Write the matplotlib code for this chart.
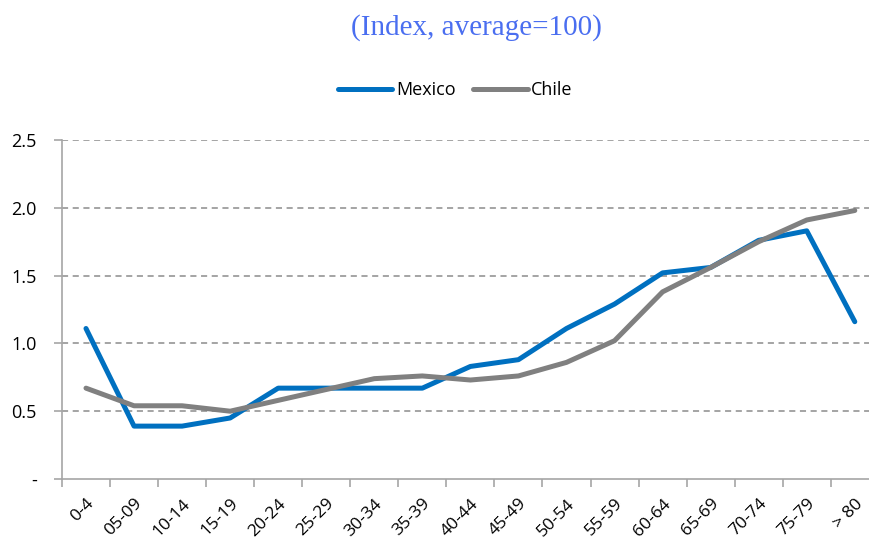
import matplotlib.pyplot as plt
import numpy as np

age_groups = ["0-4", "05-09", "10-14", "15-19", "20-24", "25-29", "30-34", "35-39",
              "40-44", "45-49", "50-54", "55-59", "60-64", "65-69", "70-74", "75-79", "> 80"]
mexico = [1.11, 0.39, 0.39, 0.45, 0.67, 0.67, 0.67, 0.67, 0.83, 0.88, 1.11, 1.29,
          1.52, 1.56, 1.76, 1.83, 1.16]
chile = [0.67, 0.54, 0.54, 0.50, 0.58, 0.66, 0.74, 0.76, 0.73, 0.76, 0.86, 1.02,
         1.38, 1.56, 1.75, 1.91, 1.98]
yticks = [0, 0.5, 1.0, 1.5, 2.0, 2.5]
ytick_labels = ["-", "0.5", "1.0", "1.5", "2.0", "2.5"]

plt.rcParams['font.family'] = ['Open Sans', 'DejaVu Sans']

fig = plt.figure(figsize=(8.69, 5.39), dpi=100)
ax = fig.add_axes([0.0713, 0.1113, 0.94, 0.629])

x = np.arange(len(age_groups))
ax.plot(x, mexico, color="#0070C0", lw=3.6, label="Mexico", solid_capstyle="round")
ax.plot(x, chile, color="#808080", lw=3.6, label="Chile", solid_capstyle="round")

ax.set_xlim(-0.5, len(age_groups) - 0.5)
ax.set_ylim(0, 2.5)
ax.set_yticks(yticks)
ax.set_yticklabels(ytick_labels, fontsize=13)
for v in yticks[1:]:
    ax.axhline(v, color="#8c8c8c", lw=1.1, ls=(0, (4, 3)), zorder=0)

ax.set_xticks(x)
ax.set_xticklabels(age_groups, rotation=45, ha="right", rotation_mode="anchor", fontsize=12.5)
ax.set_xticks(np.arange(-0.5, len(age_groups)), minor=True)
ax.tick_params(axis="x", which="major", length=0, pad=12)
ax.tick_params(axis="x", which="minor", length=6, color="#a6a6a6", width=1.2)
ax.tick_params(axis="y", length=6, color="#a6a6a6", width=1.2, pad=12)

for side in ["top", "right"]:
    ax.spines[side].set_visible(False)
for side in ["left", "bottom"]:
    ax.spines[side].set_color("#a6a6a6")
    ax.spines[side].set_linewidth(1.2)

fig.text(0.548, 0.948, "(Index, average=100)", ha="center", va="center",
         fontsize=21, color="#4a6ef0", family="Liberation Serif")
fig.legend(loc="center", bbox_to_anchor=(0.524, 0.833), ncol=2, frameon=False,
           fontsize=13, handlelength=3.0, handletextpad=0.2, columnspacing=1.0)

fig.savefig("out.png", dpi=100)
